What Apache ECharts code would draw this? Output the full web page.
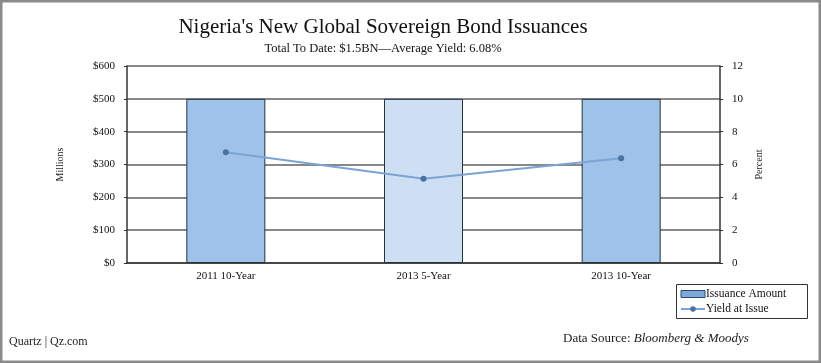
<!DOCTYPE html>
<html><head><meta charset="utf-8">
<script src="https://cdn.jsdelivr.net/npm/echarts@6/dist/echarts.min.js"></script>
<style>html,body{margin:0;padding:0;background:#fff}#c{width:821px;height:363px}</style>
</head><body><div id="c"></div>
<script>
const categories = ['2011 10-Year', '2013 5-Year', '2013 10-Year'];
const issuanceAmount = [500, 500, 500];
const yieldAtIssue = [6.75, 5.125, 6.375];
const leftTicks = [0, 100, 200, 300, 400, 500, 600];
const rightTicks = [0, 2, 4, 6, 8, 10, 12];
const barColors = ['#9fc2e9', '#cfdff3', '#9fc2e9'];

const F = '"Liberation Serif", "DejaVu Serif", serif';
const chart = echarts.init(document.getElementById('c'));
chart.setOption({
  animation: false,
  textStyle: { fontFamily: F },
  title: [
    { text: "Nigeria's New Global Sovereign Bond Issuances", left: 378, top: 12, textAlign: 'center',
      textStyle: { fontFamily: F, fontSize: 21, fontWeight: 'normal', color: '#111' } },
    { text: 'Total To Date: $1.5BN\u2014Average Yield: 6.08%', left: 378, top: 37, textAlign: 'center',
      textStyle: { fontFamily: F, fontSize: 12.5, fontWeight: 'normal', color: '#111' } }
  ],
  graphic: [
    { type: 'rect', shape: { x: 1, y: 1, width: 819, height: 361 }, style: { fill: 'none', stroke: '#8a8a8a', lineWidth: 3 } },
    { type: 'rect', shape: { x: 676.5, y: 284.5, width: 131, height: 34 }, style: { fill: 'none', stroke: '#333', lineWidth: 1 } },
    { type: 'text', left: 9, top: 336, style: { text: 'Quartz | Qz.com', font: '12px ' + F, fill: '#222' } },
    { type: 'text', left: 563, top: 332, style: { rich: { a: { fontFamily: F, fontSize: 13, fill: '#222' }, b: { fontFamily: F, fontSize: 13, fontStyle: 'italic', fill: '#222' } }, text: '{a|Data Source: }{b|Bloomberg & Moodys}' } }
  ],
  legend: {
    orient: 'vertical', left: 678, top: 286,
    itemGap: 3, itemWidth: 24, itemHeight: 7, padding: 2,
    textStyle: { fontFamily: F, fontSize: 11.5, color: '#111', padding: [0, 0, 0, -4] },
    data: [
      { name: 'Issuance Amount', icon: 'rect', itemStyle: { color: '#7ea8da', borderColor: '#2b4a70', borderWidth: 1 } },
      { name: 'Yield at Issue' }
    ]
  },
  grid: { left: 127, right: 101, top: 66, bottom: 100 },
  xAxis: {
    type: 'category', data: categories,
    axisLine: { lineStyle: { color: '#333', width: 1.5 } },
    axisTick: { show: false },
    axisLabel: { fontFamily: F, fontSize: 11, color: '#111', margin: 8 }
  },
  yAxis: [
    { type: 'value', min: 0, max: 600, interval: 100, name: 'Millions', nameLocation: 'middle', nameGap: 62,
      nameTextStyle: { fontFamily: F, fontSize: 10, color: '#222' },
      axisLine: { show: true, lineStyle: { color: '#333', width: 1.5 } },
      axisTick: { show: true, length: 3, lineStyle: { color: '#333' } },
      axisLabel: { fontFamily: F, fontSize: 11, color: '#111', margin: 12, formatter: v => '$' + v },
      splitLine: { lineStyle: { color: '#888', width: 2 } } },
    { type: 'value', min: 0, max: 12, interval: 2, name: 'Percent', nameLocation: 'middle', nameGap: 34, nameRotate: 90,
      nameTextStyle: { fontFamily: F, fontSize: 10, color: '#222' },
      axisLine: { show: true, lineStyle: { color: '#333', width: 1.5 } },
      axisTick: { show: true, length: 3, lineStyle: { color: '#333' } },
      axisLabel: { fontFamily: F, fontSize: 11, color: '#111', margin: 12, formatter: v => String(v) },
      splitLine: { show: false } }
  ],
  series: [
    { name: 'Issuance Amount', type: 'bar', barWidth: 79, yAxisIndex: 0,
      data: issuanceAmount.map((v, i) => ({ value: v, itemStyle: { color: barColors[i] } })),
      itemStyle: { color: '#9fc2e9', borderColor: '#26323e', borderWidth: 1 } },
    { name: 'Yield at Issue', type: 'line', yAxisIndex: 1, data: yieldAtIssue,
      symbol: 'circle', symbolSize: 6,
      lineStyle: { color: '#7ba3d3', width: 2 },
      itemStyle: { color: '#4a72a2' } }
  ]
});
</script></body></html>
